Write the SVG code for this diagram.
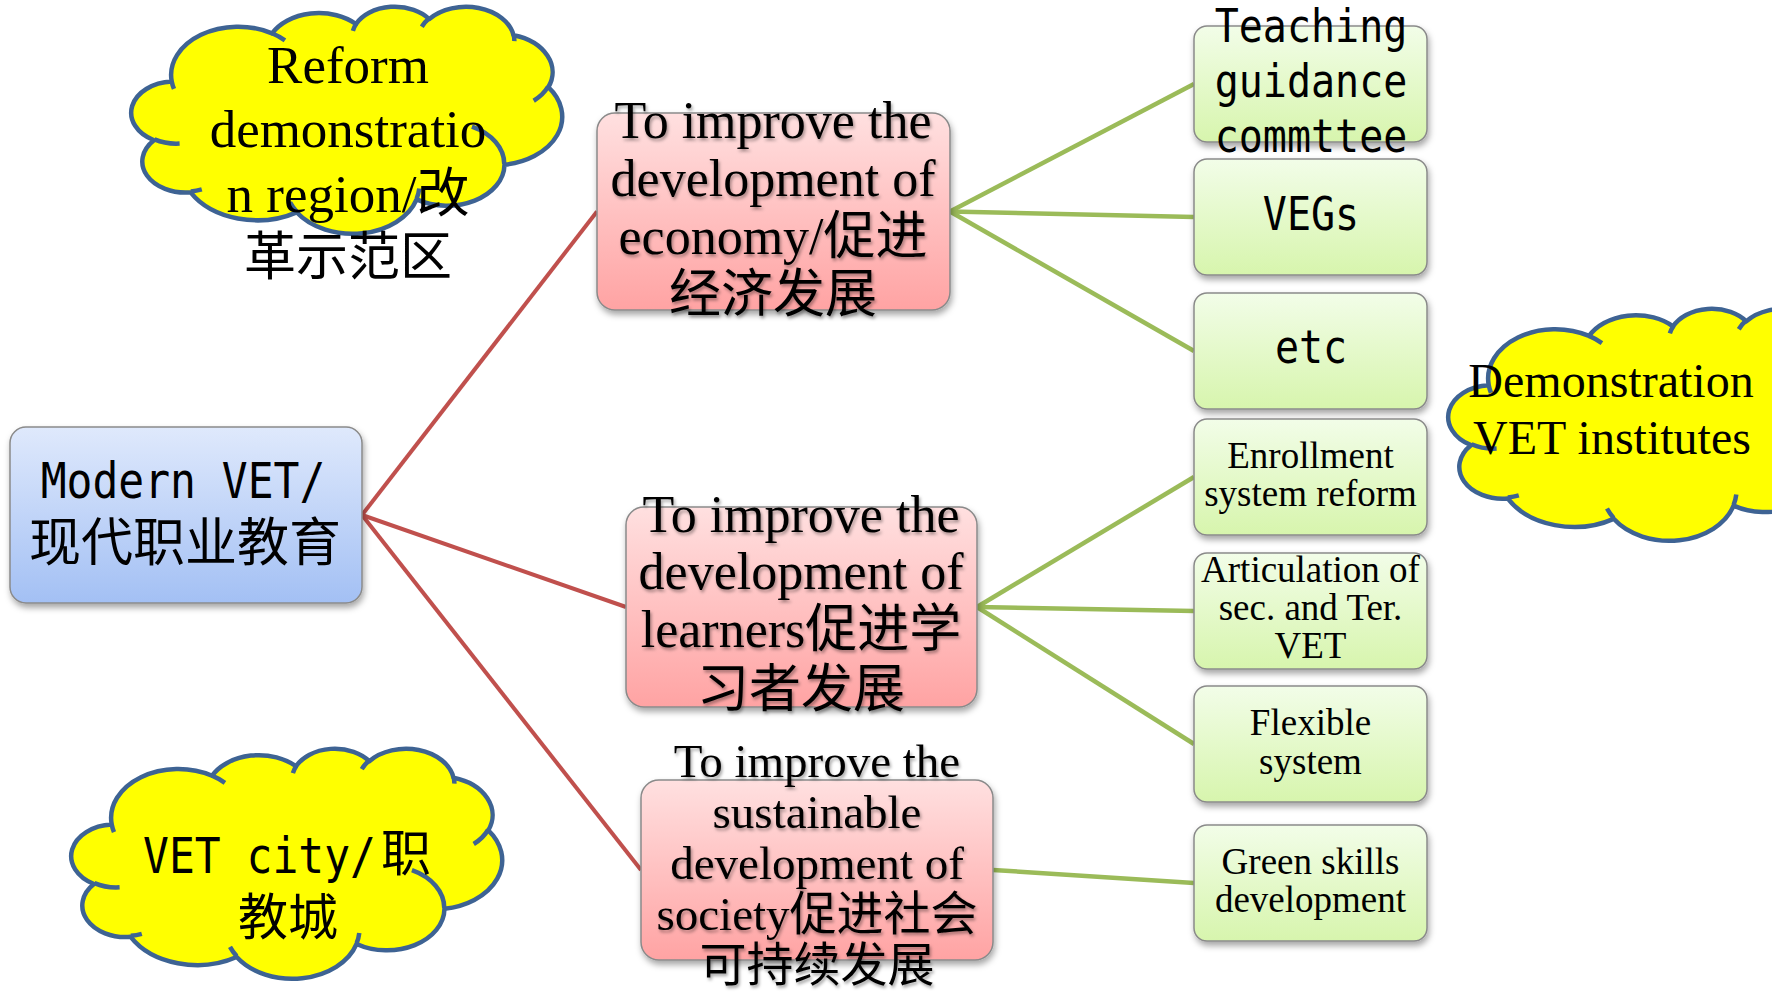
<svg xmlns="http://www.w3.org/2000/svg" xmlns:xlink="http://www.w3.org/1999/xlink" width="1772" height="992" viewBox="0 0 1772 992">
<style>
.mono{font-family:"DejaVu Sans Mono","Liberation Mono",monospace;fill:#000}
.cjk{font-family:"Noto Sans CJK SC",sans-serif;fill:#000}
.serif{font-family:"Liberation Serif","Noto Sans CJK SC",serif;fill:#000}
.mid{text-anchor:middle}
.cf{fill:#FFFF00;stroke:#3E6393;stroke-width:4.5;vector-effect:non-scaling-stroke;stroke-linejoin:round}
.ct{fill:none;stroke:#3E6393;stroke-width:4.5;vector-effect:non-scaling-stroke}
.red{stroke:#C0504D;stroke-width:4;fill:none}
.grn{stroke:#9BBB59;stroke-width:4.5;fill:none}
.nb{stroke:#8A8A8A;stroke-width:1.5}
</style>
<defs>
<linearGradient id="gBlue" x1="0" y1="0" x2="0" y2="1"><stop offset="0" stop-color="#DFE9FC"/><stop offset="1" stop-color="#A3C0F4"/></linearGradient>
<linearGradient id="gPink" x1="0" y1="0" x2="0" y2="1"><stop offset="0" stop-color="#FFE0E0"/><stop offset="1" stop-color="#FFA3A3"/></linearGradient>
<linearGradient id="gGreen" x1="0" y1="0" x2="0" y2="1"><stop offset="0" stop-color="#F2FDE8"/><stop offset="1" stop-color="#D7F5AD"/></linearGradient>
<filter id="sh" x="-10%" y="-10%" width="125%" height="130%"><feDropShadow dx="1.5" dy="4" stdDeviation="3" flood-color="#000" flood-opacity="0.35"/></filter>
<filter id="tsh" x="-5%" y="-10%" width="115%" height="130%"><feDropShadow dx="1.5" dy="2.5" stdDeviation="1.5" flood-color="#000" flood-opacity="0.35"/></filter>
<g id="cloud">
<path class="cf" d="M3900 14370 A6753 9190 0 0 1 14005.7 5202.1 A5333 7267 0 0 1 22456.8 3429.8 A4365 5945 0 0 1 29834.3 2477.9 A4857 6595 0 0 1 38319.3 5573.3 A5333 7273 0 0 1 41819.7 15457.1 A6775 9220 0 0 1 37404.2 30197.6 A5785 7867 0 0 1 28555.7 36807.7 A6752 9215 0 0 1 16480.5 39260.3 A7720 10543 0 0 1 5804.6 35468.2 A4360 5918 0 0 1 2113.7 25546 A4345 5945 0 0 1 3900 14370 Z"/>
<path class="ct" d="M4693 26177 A4345 5945 0 0 1 2160 25380 M6928 34899 A4360 5918 0 0 1 5819 35281 M16478 39090 A6752 9215 0 0 1 15810 37349 M28827 34751 A6752 9215 0 0 1 28560 36660 M34129 22954 A5785 7867 0 0 1 37381 30090 M41798 15354 A5333 7273 0 0 1 40349 18031 M38324 5426 A4857 6595 0 0 1 38400 6690 M29078 3952 A4857 6595 0 0 1 29820 2339 M22141 4720 A4365 5945 0 0 1 22500 3331 M14000 5192 A6753 9190 0 0 1 15299 6540 M4127 15789 A6753 9190 0 0 1 3900 14370"/>
</g>
</defs>
<rect width="1772" height="992" fill="#FFFFFF"/>

<g id="connectors">
<line class="red" x1="362" y1="515" x2="597" y2="211.5"/>
<line class="red" x1="362" y1="515" x2="626" y2="607"/>
<line class="red" x1="362" y1="515" x2="641" y2="870"/>
<line class="grn" x1="950" y1="211.5" x2="1194" y2="84"/>
<line class="grn" x1="950" y1="211.5" x2="1194" y2="217"/>
<line class="grn" x1="950" y1="211.5" x2="1194" y2="351"/>
<line class="grn" x1="977" y1="607" x2="1194" y2="477"/>
<line class="grn" x1="977" y1="607" x2="1194" y2="611"/>
<line class="grn" x1="977" y1="607" x2="1194" y2="744"/>
<line class="grn" x1="993" y1="870" x2="1194" y2="883"/>
</g>

<g id="cloud-reform">
<use xlink:href="#cloud" href="#cloud" transform="translate(133,6) scale(0.009931,0.005255)"/>
<text class="serif mid" font-size="53" x="348" y="83">Reform</text>
<text class="serif mid" font-size="53" x="348" y="147">demonstratio</text>
<text class="serif mid" font-size="53" x="348" y="212">n region/改</text>
<text class="cjk mid" font-size="52" x="348" y="275">革示范区</text>
</g>

<g id="cloud-demo">
<use xlink:href="#cloud" href="#cloud" transform="translate(1450,308) scale(0.009931,0.00537)"/>
<text class="serif mid" font-size="48" x="1611" y="397">Demonstration</text>
<text class="serif mid" font-size="48" x="1612" y="454">VET institutes</text>
</g>

<g id="cloud-city">
<use xlink:href="#cloud" href="#cloud" transform="translate(73,748) scale(0.009931,0.005324)"/>
<text class="mono" font-size="43" transform="translate(143,873) scale(1,1.17)">VET city/</text>
<text class="cjk" font-size="50" x="381" y="871">职</text>
<text class="cjk mid" font-size="50" x="288" y="935">教城</text>
</g>

<g id="root">
<rect x="10" y="427" width="352" height="176" rx="16" fill="url(#gBlue)" class="nb" filter="url(#sh)"/>
<text class="mono mid" font-size="43" transform="translate(183,498) scale(1,1.17)">Modern VET/</text>
<text class="cjk mid" font-size="52" x="185" y="561">现代职业教育</text>
</g>

<g id="economy">
<rect x="597" y="113" width="353" height="197" rx="18" fill="url(#gPink)" class="nb" filter="url(#sh)"/>
<g filter="url(#tsh)">
<text class="serif mid" font-size="52" x="773" y="138">To improve the</text>
<text class="serif mid" font-size="52" x="773" y="196">development of</text>
<text class="serif mid" font-size="52" x="773" y="254">economy/促进</text>
<text class="serif mid" font-size="52" x="773" y="312">经济发展</text>
</g>
</g>

<g id="learners">
<rect x="626" y="507" width="351" height="200" rx="18" fill="url(#gPink)" class="nb" filter="url(#sh)"/>
<g filter="url(#tsh)">
<text class="serif mid" font-size="52" x="801" y="532">To improve the</text>
<text class="serif mid" font-size="52" x="801" y="589">development of</text>
<text class="serif mid" font-size="52" x="801" y="647">learners促进学</text>
<text class="serif mid" font-size="52" x="801" y="707">习者发展</text>
</g>
</g>

<g id="society">
<rect x="641" y="780" width="352" height="180" rx="18" fill="url(#gPink)" class="nb" filter="url(#sh)"/>
<g filter="url(#tsh)">
<text class="serif mid" font-size="47" x="817" y="777">To improve the</text>
<text class="serif mid" font-size="47" x="817" y="828">sustainable</text>
<text class="serif mid" font-size="47" x="817" y="879">development of</text>
<text class="serif mid" font-size="47" x="817" y="930">society促进社会</text>
<text class="serif mid" font-size="47" x="817" y="981">可持续发展</text>
</g>
</g>

<g id="teaching">
<rect x="1194" y="26" width="233" height="116" rx="13" fill="url(#gGreen)" class="nb" filter="url(#sh)"/>
<text class="mono mid" font-size="40" transform="translate(1311,42) scale(1,1.15)">Teaching</text>
<text class="mono mid" font-size="40" transform="translate(1311,97) scale(1,1.15)">guidance</text>
<text class="mono mid" font-size="40" transform="translate(1311,152) scale(1,1.15)">commttee</text>
</g>

<g id="vegs">
<rect x="1194" y="159" width="233" height="116" rx="13" fill="url(#gGreen)" class="nb" filter="url(#sh)"/>
<text class="mono mid" font-size="40" transform="translate(1311,230) scale(1,1.15)">VEGs</text>
</g>

<g id="etc">
<rect x="1194" y="293" width="233" height="116" rx="13" fill="url(#gGreen)" class="nb" filter="url(#sh)"/>
<text class="mono mid" font-size="40" transform="translate(1311,363) scale(1,1.15)">etc</text>
</g>

<g id="enrollment">
<rect x="1194" y="419" width="233" height="116" rx="13" fill="url(#gGreen)" class="nb" filter="url(#sh)"/>
<text class="serif mid" font-size="37" x="1310.5" y="468">Enrollment</text>
<text class="serif mid" font-size="37" x="1310.5" y="506">system reform</text>
</g>

<g id="articulation">
<rect x="1194" y="553" width="233" height="116" rx="13" fill="url(#gGreen)" class="nb" filter="url(#sh)"/>
<text class="serif mid" font-size="37" x="1310.5" y="582">Articulation of</text>
<text class="serif mid" font-size="37" x="1310.5" y="620">sec. and Ter.</text>
<text class="serif mid" font-size="37" x="1310.5" y="658">VET</text>
</g>

<g id="flexible">
<rect x="1194" y="686" width="233" height="116" rx="13" fill="url(#gGreen)" class="nb" filter="url(#sh)"/>
<text class="serif mid" font-size="37" x="1310.5" y="735">Flexible</text>
<text class="serif mid" font-size="37" x="1310.5" y="774">system</text>
</g>

<g id="green-skills">
<rect x="1194" y="825" width="233" height="116" rx="13" fill="url(#gGreen)" class="nb" filter="url(#sh)"/>
<text class="serif mid" font-size="37" x="1310.5" y="874">Green skills</text>
<text class="serif mid" font-size="37" x="1310.5" y="912">development</text>
</g>
</svg>
